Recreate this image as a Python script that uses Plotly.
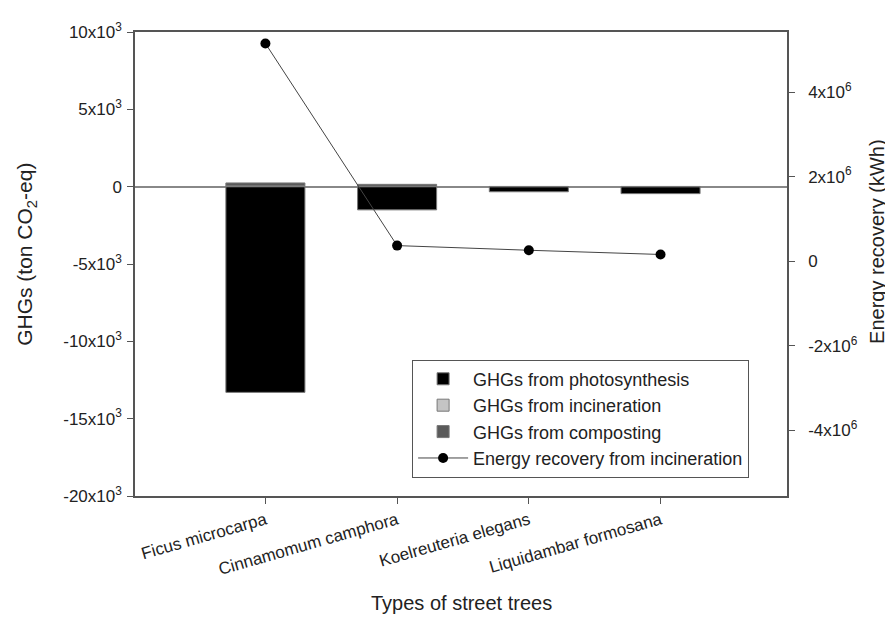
import plotly.graph_objects as go

categories = ["Ficus microcarpa", "Cinnamomum camphora", "Koelreuteria elegans", "Liquidambar formosana"]
ghg_photosynthesis = [-13300, -1500, -330, -450]
ghg_incineration = [60, 30, 5, 5]
ghg_composting = [180, 120, 10, 10]
energy_recovery = [5.15e6, 0.37e6, 0.26e6, 0.16e6]

left_tickvals = [10000, 5000, 0, -5000, -10000, -15000, -20000]
left_ticktext = ["10x10<sup>3</sup>", "5x10<sup>3</sup>", "0", "-5x10<sup>3</sup>",
                 "-10x10<sup>3</sup>", "-15x10<sup>3</sup>", "-20x10<sup>3</sup>"]
right_tickvals = [4e6, 2e6, 0, -2e6, -4e6]
right_ticktext = ["4x10<sup>6</sup>", "2x10<sup>6</sup>", "0", "-2x10<sup>6</sup>", "-4x10<sup>6</sup>"]

FONT = "Liberation Sans, Arial, sans-serif"
TXT = "#222222"
AX = "#555555"

fig = go.Figure()
fig.add_trace(go.Bar(x=categories, y=ghg_photosynthesis, name="GHGs from photosynthesis",
                     marker=dict(color="#000000", line=dict(color="#777777", width=1)), width=0.6))
fig.add_trace(go.Bar(x=categories, y=ghg_incineration, name="GHGs from incineration",
                     marker=dict(color="#c4c4c4", line=dict(color="#777777", width=1)), width=0.6))
fig.add_trace(go.Bar(x=categories, y=ghg_composting, name="GHGs from composting",
                     marker=dict(color="#5a5a5a", line=dict(color="#777777", width=1)), width=0.6))
fig.add_trace(go.Scatter(x=categories, y=energy_recovery, name="Energy recovery from incineration",
                         mode="lines+markers", yaxis="y2",
                         line=dict(color="#444444", width=1),
                         marker=dict(color="#000000", size=10)))

fig.update_layout(
    width=893, height=621,
    margin=dict(l=127, r=114, t=16, b=133),
    paper_bgcolor="white", plot_bgcolor="white",
    barmode="relative",
    font=dict(family=FONT, size=15, color=TXT),
    showlegend=True,
    legend=dict(x=0.425, y=0.294, xanchor="left", yanchor="top",
                bordercolor=AX, borderwidth=1, bgcolor="white",
                font=dict(size=18, color=TXT), traceorder="normal",
                tracegroupgap=0, itemwidth=50),
    xaxis=dict(range=[-0.99, 3.96], showline=True, linecolor=AX, linewidth=1.5, mirror=True,
               ticks="outside", ticklen=6, tickcolor=AX, tickangle=-16,
               tickfont=dict(size=17, color=TXT), showgrid=False, zeroline=False),
    yaxis=dict(range=[-20000, 10000], tickvals=left_tickvals, ticktext=left_ticktext,
               showline=True, linecolor=AX, linewidth=1.5, ticks="outside", ticklen=6,
               tickcolor=AX, showgrid=False, zeroline=True, zerolinecolor="#888888",
               zerolinewidth=1.5, tickfont=dict(size=17, color=TXT), ticklabelstandoff=2),
    yaxis2=dict(range=[-5.55e6, 5.42e6], overlaying="y", side="right",
                tickvals=right_tickvals, ticktext=right_ticktext,
                showline=True, linecolor=AX, linewidth=1.5, ticks="outside", ticklen=6,
                tickcolor=AX, showgrid=False, zeroline=False,
                tickfont=dict(size=17, color=TXT), ticklabelstandoff=10),
    annotations=[
        dict(text="GHGs (ton CO<sub>2</sub>-eq)", textangle=-90, xref="paper", yref="paper",
             x=-0.167, y=0.52, showarrow=False, font=dict(size=21, color=TXT),
             xanchor="center", yanchor="middle"),
        dict(text="Energy recovery (kWh)", textangle=-90, xref="paper", yref="paper",
             x=1.139, y=0.549, showarrow=False, font=dict(size=20, color=TXT),
             xanchor="center", yanchor="middle"),
        dict(text="Types of street trees", xref="paper", yref="paper",
             x=0.5, y=-0.231, showarrow=False, font=dict(size=20, color=TXT),
             xanchor="center", yanchor="middle"),
    ],
)

fig.write_html("out.html")
